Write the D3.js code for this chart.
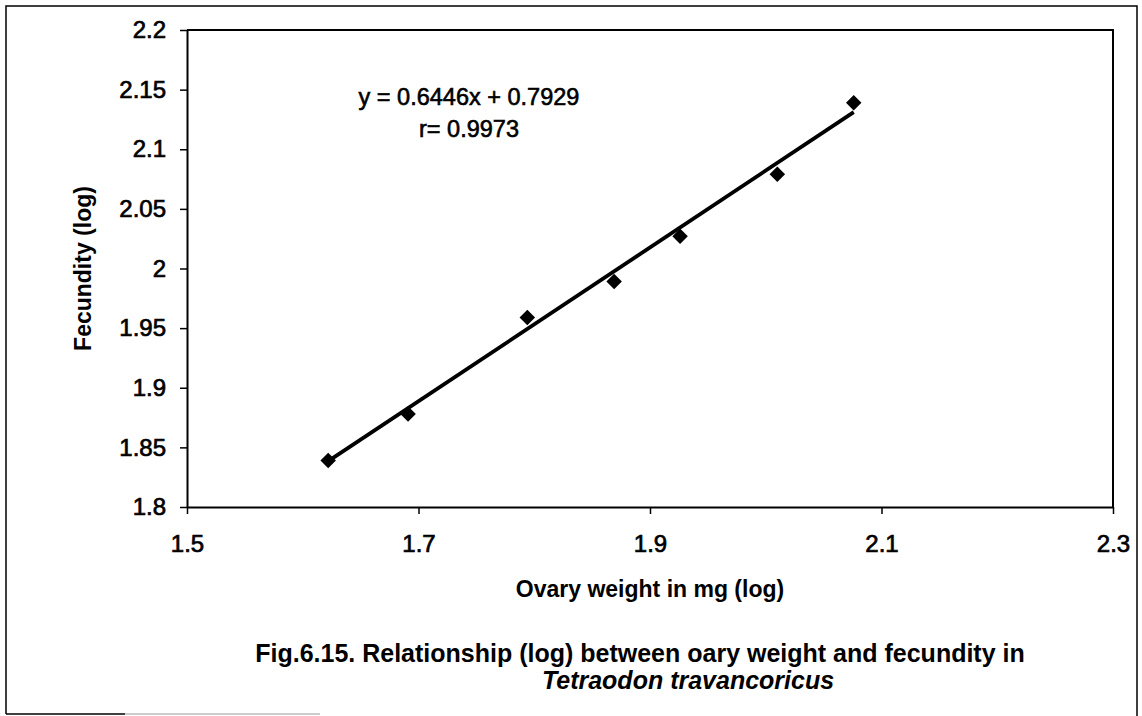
<!DOCTYPE html>
<html>
<head>
<meta charset="utf-8">
<script src="https://cdn.jsdelivr.net/npm/d3@7"></script>
<style>
  body { margin: 0; background: #fff; }
  svg { display: block; font-family: "Liberation Sans", Arial, sans-serif; }
</style>
</head>
<body>
<div id="chart"></div>
<script>
// Data
let ovaryWeight = [1.622, 1.691, 1.794, 1.869, 1.926, 2.010, 2.076];
let fecundity = [1.839, 1.878, 1.959, 1.989, 2.027, 2.079, 2.139];
let xTicks = [1.5, 1.7, 1.9, 2.1, 2.3];
let yTicks = [1.8, 1.85, 1.9, 1.95, 2, 2.05, 2.1, 2.15, 2.2];
let slope = 0.6446,
    intercept = 0.7929;
let equationLines = ["y = 0.6446x + 0.7929", "r= 0.9973"];
let captionLine1 = "Fig.6.15. Relationship (log) between oary weight and fecundity in";
let captionLine2 = "Tetraodon travancoricus";

let width = 1142,
    height = 716,
    plotLeft = 187,
    plotRight = 1113,
    plotTop = 30,
    plotBottom = 507;

let svg = d3.select("#chart")
    .append("svg")
    .attr("width", width)
    .attr("height", height);

// outer frame of the figure (bottom edge only partly printed in the scan)
svg.append("path")
    .attr("d", "M6,714 L6,6 L1137,6 L1137,716")
    .attr("fill", "none")
    .attr("stroke", "#000")
    .attr("stroke-width", 1.5);
svg.append("line")
    .attr("x1", 6).attr("x2", 125).attr("y1", 714).attr("y2", 714)
    .attr("stroke", "#000").attr("stroke-width", 1.5);
svg.append("line")
    .attr("x1", 125).attr("x2", 320).attr("y1", 714).attr("y2", 714)
    .attr("stroke", "#999").attr("stroke-width", 1.2);

let x = d3.scaleLinear()
    .domain([1.5, 2.3])
    .range([plotLeft, plotRight]);

let y = d3.scaleLinear()
    .domain([1.8, 2.2])
    .range([plotBottom, plotTop]);

// plot area box (top and right edges)
svg.append("path")
    .attr("d", `M${plotLeft},${plotTop} L${plotRight},${plotTop} L${plotRight},${plotBottom}`)
    .attr("fill", "none")
    .attr("stroke", "#000")
    .attr("stroke-width", 2);

let xAxis = svg.append("g")
    .attr("transform", `translate(0,${plotBottom})`)
    .call(d3.axisBottom(x)
        .tickValues(xTicks)
        .tickFormat(d => String(+d.toFixed(2)))
        .tickSize(7)
        .tickSizeOuter(0)
        .tickPadding(21));

let yAxis = svg.append("g")
    .attr("transform", `translate(${plotLeft},0)`)
    .call(d3.axisLeft(y)
        .tickValues(yTicks)
        .tickFormat(d => String(+d.toFixed(2)))
        .tickSize(7)
        .tickSizeOuter(0)
        .tickPadding(14));

[xAxis, yAxis].forEach(g => {
    g.select(".domain").attr("stroke-width", 2);
    g.selectAll(".tick line").attr("stroke-width", 1.5);
    g.selectAll(".tick text")
        .attr("font-size", "24px")
        .attr("font-family", "Liberation Sans, Arial, sans-serif")
        .attr("fill", "#000")
        .attr("stroke", "#000")
        .attr("stroke-width", 0.7);
});

// regression line over the range of the data
let xExtent = d3.extent(ovaryWeight);
svg.append("line")
    .attr("x1", x(xExtent[0]))
    .attr("y1", y(slope * xExtent[0] + intercept))
    .attr("x2", x(xExtent[1]))
    .attr("y2", y(slope * xExtent[1] + intercept))
    .attr("stroke", "#000")
    .attr("stroke-width", 3.8);

// diamond markers
svg.append("g")
    .selectAll("path")
    .data(ovaryWeight.map((v, i) => ({ x: v, y: fecundity[i] })))
    .join("path")
    .attr("d", d3.symbol().type(d3.symbolSquare).size(120))
    .attr("transform", d => `translate(${x(d.x)},${y(d.y)}) rotate(45)`)
    .attr("fill", "#000");

// equation
svg.append("g")
    .attr("text-anchor", "middle")
    .attr("font-size", "23.5px")
    .selectAll("text")
    .data(equationLines)
    .join("text")
    .attr("x", 469)
    .attr("y", (d, i) => 105 + i * 32)
    .attr("stroke", "#000")
    .attr("stroke-width", 0.6)
    .text(d => d);

// axis titles
svg.append("text")
    .attr("x", (plotLeft + plotRight) / 2)
    .attr("y", 597)
    .attr("text-anchor", "middle")
    .attr("font-size", "23px")
    .attr("font-weight", "bold")
    .text("Ovary weight in mg (log)");

svg.append("text")
    .attr("transform", `translate(91,${(plotTop + plotBottom) / 2}) rotate(-90)`)
    .attr("text-anchor", "middle")
    .attr("font-size", "23px")
    .attr("font-weight", "bold")
    .text("Fecundity (log)");

// caption
svg.append("text")
    .attr("x", 640)
    .attr("y", 662)
    .attr("text-anchor", "middle")
    .attr("font-size", "25px")
    .attr("font-weight", "bold")
    .text(captionLine1);

svg.append("text")
    .attr("x", 688)
    .attr("y", 689)
    .attr("text-anchor", "middle")
    .attr("font-size", "25px")
    .attr("font-weight", "bold")
    .attr("font-style", "italic")
    .text(captionLine2);
</script>
</body>
</html>
